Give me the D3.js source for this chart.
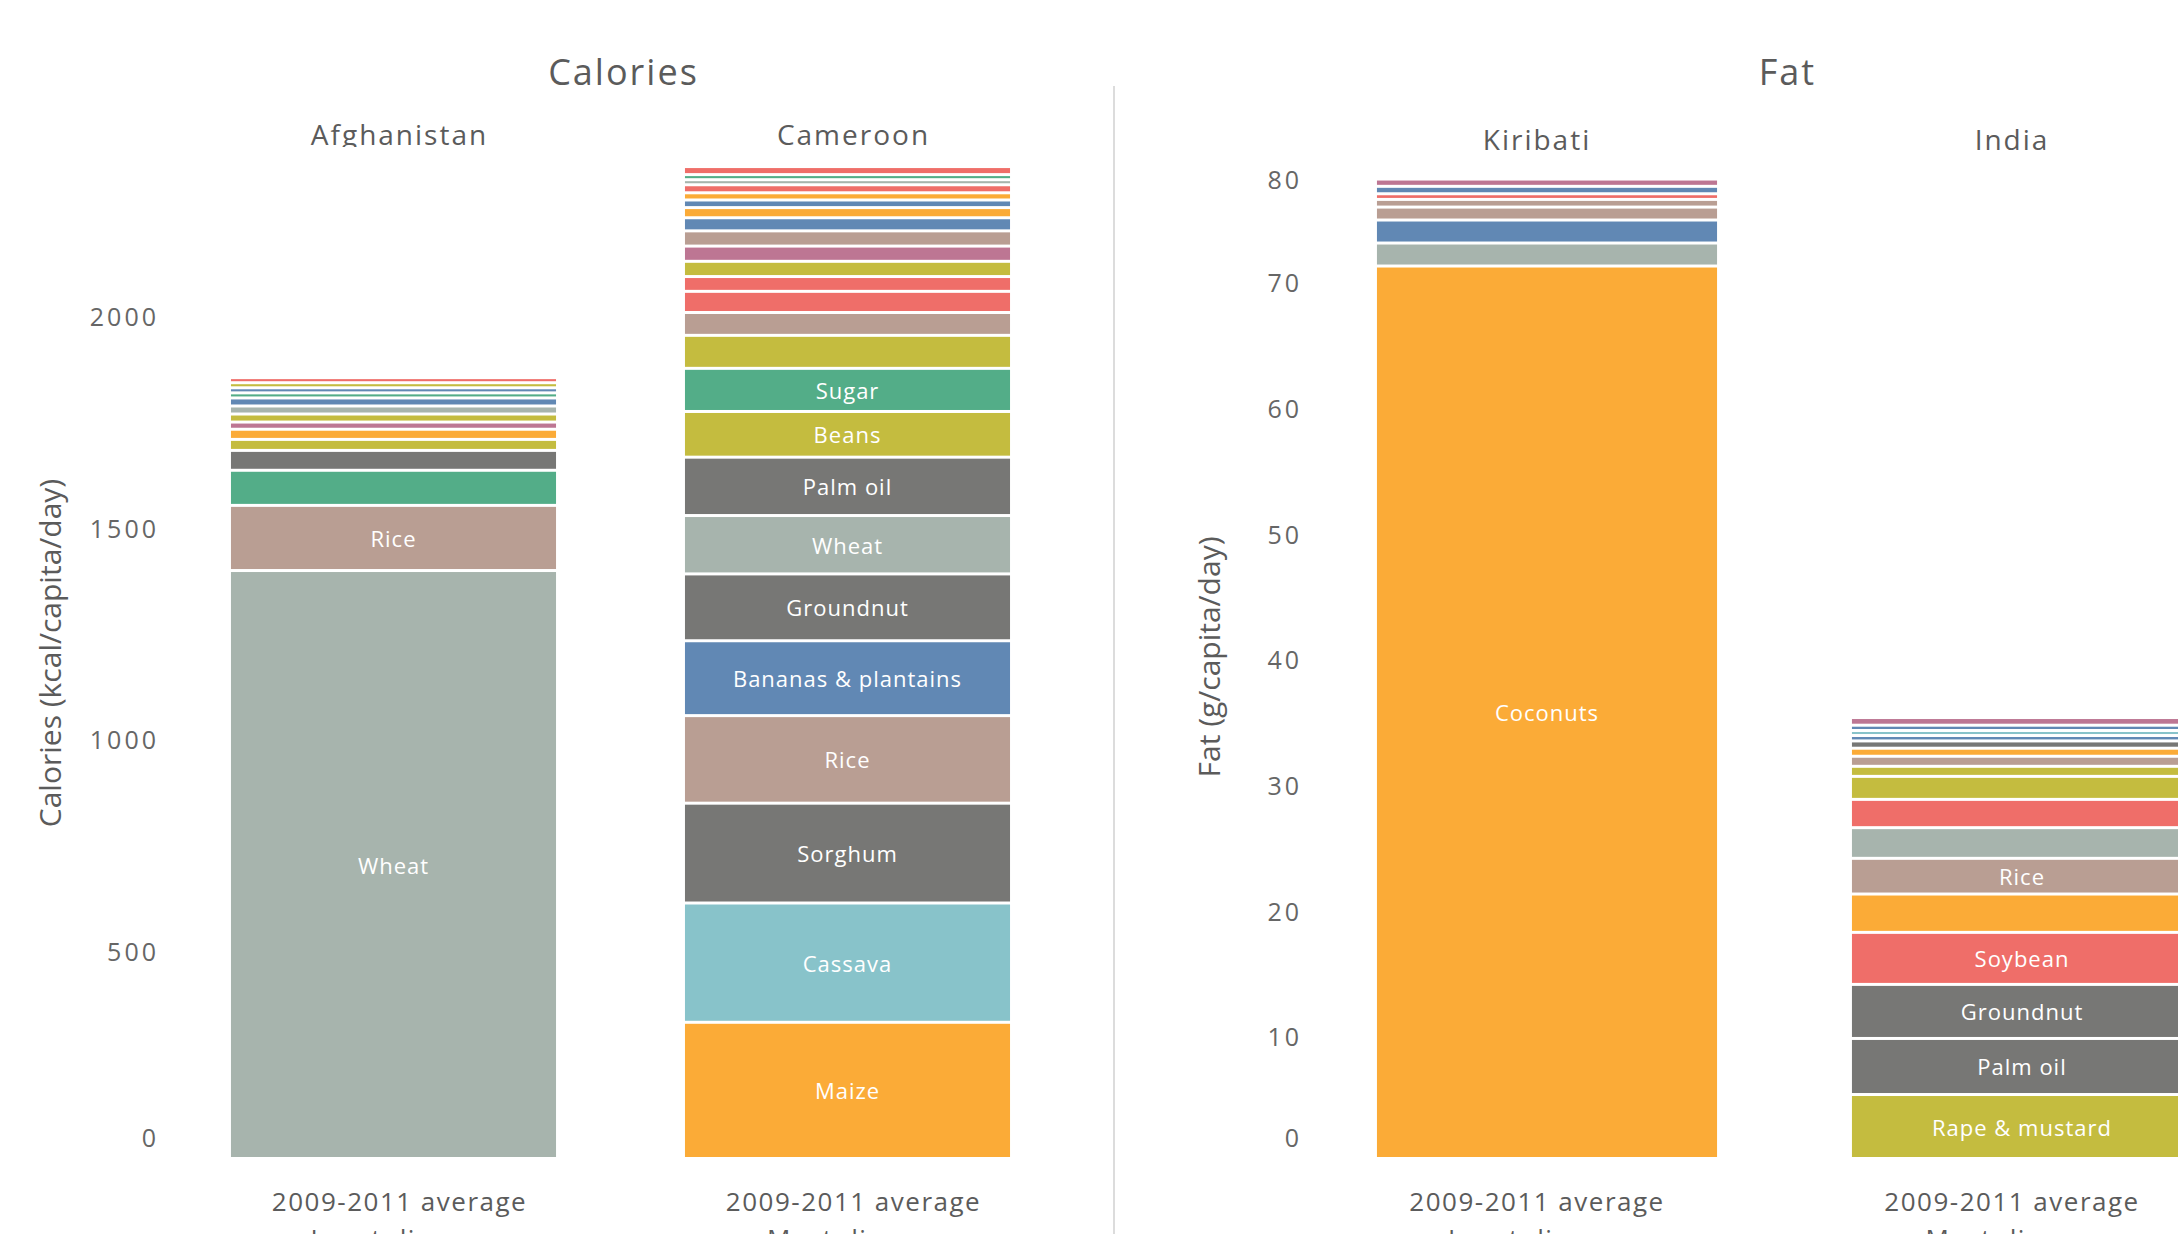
<!DOCTYPE html>
<html>
<head>
<meta charset="utf-8">
<script src="https://cdn.jsdelivr.net/npm/d3@7"></script>
<style>
  body { margin: 0; background: #fff; }
  text { font-family: 'Open Sans', sans-serif; }
</style>
</head>
<body>
<script>
// ---- data (segments listed bottom to top) ----
const calorieCountries = ['Afghanistan', 'Cameroon'];
const calorieTicks = [0, 500, 1000, 1500, 2000];

const afghanistanFoods = ['Wheat', 'Rice', '', '', '', '', '', '', '', '', '', '', '', ''];
const afghanistanKcal = [1390, 154, 83, 47, 26, 24, 17, 19, 19, 19, 12, 12, 12, 12];

const cameroonFoods = ['Maize', 'Cassava', 'Sorghum', 'Rice', 'Bananas & plantains', 'Groundnut',
  'Wheat', 'Palm oil', 'Beans', 'Sugar', '', '', '', '', '', '', '', '', '', '', '', '', '', '', ''];
const cameroonKcal = [322, 282, 236, 207, 177, 158, 138, 138, 108, 102,
  78, 54, 50, 35, 36, 36, 36, 31, 24, 18, 17, 19, 12, 12, 19];

const fatCountries = ['Kiribati', 'India'];
const fatTicks = [0, 10, 20, 30, 40, 50, 60, 70, 80];

const kiribatiFoods = ['Coconuts', '', '', '', '', '', '', ''];
const kiribatiFat = [71.0, 1.83, 1.83, 1.03, 0.61, 0.45, 0.59, 0.58];

const indiaFoods = ['Rape & mustard', 'Palm oil', 'Groundnut', 'Soybean', '', 'Rice', '', '', '',
  '', '', '', '', '', '', '', ''];
const indiaFat = [5.09, 4.46, 4.3, 4.14, 3.05, 2.84, 2.44, 2.25, 1.83,
  0.8, 0.8, 0.64, 0.58, 0.43, 0.4, 0.42, 0.61];

const periodLabel = '2009-2011 average';
const diversityLabels = ['Least diverse', 'Most diverse'];

// ---- colours ----
const palette = {
  sage: '#a7b4ad', tan: '#b99e93', green: '#53ad88', dgray: '#777775', olive: '#c4bc3f',
  orange: '#fbab37', mauve: '#bd7693', blue: '#6188b4', red: '#ef6e69', teal: '#88c3ca'
};
const afghanistanShades = ['sage', 'tan', 'green', 'dgray', 'olive', 'orange', 'mauve', 'olive',
  'sage', 'blue', 'green', 'blue', 'olive', 'red'];
const cameroonShades = ['orange', 'teal', 'dgray', 'tan', 'blue', 'dgray', 'sage', 'dgray', 'olive',
  'green', 'olive', 'tan', 'red', 'red', 'olive', 'mauve', 'tan', 'blue', 'orange', 'blue', 'orange',
  'red', 'sage', 'green', 'red'];
const kiribatiShades = ['orange', 'sage', 'blue', 'tan', 'tan', 'red', 'blue', 'mauve'];
const indiaShades = ['olive', 'dgray', 'dgray', 'red', 'orange', 'tan', 'sage', 'red', 'olive',
  'olive', 'tan', 'orange', 'dgray', 'blue', 'teal', 'blue', 'mauve'];

const W = 2178, H = 1234;
const baseY = 1160, gap = 3;
const textCol = '#5b5b5b';

const svg = d3.select('body').append('svg').attr('width', W).attr('height', H);

// divider between the two panels
svg.append('line')
  .attr('x1', 1114).attr('x2', 1114).attr('y1', 86).attr('y2', H)
  .attr('stroke', '#dcdcdc').attr('stroke-width', 2);

function drawPanel(p) {
  let x = d3.scaleBand().domain(p.countries).range(p.xRange)
    .paddingInner(0.284).paddingOuter(0.142);
  let y = d3.scaleLinear().domain([0, p.yMax]).range([baseY, p.yTop]);
  let g = svg.append('g');
  let mid = c => x(c) + x.bandwidth() / 2 + p.labelShift;

  // title
  let centers = p.countries.map(c => x(c) + x.bandwidth() / 2);
  g.append('text').text(p.title)
    .attr('x', d3.mean(centers) + 3).attr('y', 85)
    .attr('text-anchor', 'middle').attr('font-size', '36px')
    .attr('letter-spacing', '2px').attr('fill', textCol);

  // axis
  let axis = g.append('g').attr('transform', `translate(${p.axisX},0)`)
    .call(d3.axisLeft(y).tickValues(p.ticks).tickFormat(d3.format('d')).tickSize(0).tickPadding(0));
  axis.select('.domain').remove();
  axis.selectAll('.tick')
    .attr('transform', d => `translate(0,${Math.max(181, Math.min(1139, y(d) + 4))})`);
  axis.selectAll('text')
    .attr('font-family', "'Open Sans', sans-serif")
    .attr('font-size', '25px').attr('letter-spacing', '3px').attr('fill', '#666');

  g.append('text').text(p.axisTitle)
    .attr('transform', `translate(${p.axisTitleX},${p.axisTitleY}) rotate(-90)`)
    .attr('text-anchor', 'middle').attr('dominant-baseline', 'central')
    .attr('font-size', '30px').attr('fill', textCol);

  // country names, cut off just below the baseline like the original
  let clipId = 'clip' + p.title;
  svg.append('clipPath').attr('id', clipId).append('rect')
    .attr('x', 0).attr('y', 0).attr('width', W).attr('height', p.nameY + 2);
  g.append('g').attr('clip-path', `url(#${clipId})`)
    .selectAll('text').data(p.countries).enter().append('text')
    .text(d => d)
    .attr('x', d => mid(d)).attr('y', p.nameY)
    .attr('text-anchor', 'middle').attr('font-size', '28px')
    .attr('letter-spacing', '2px').attr('fill', textCol);

  // stacked bars
  p.bars.forEach((bar, bi) => {
    let country = p.countries[bi];
    let tops = Array.from(d3.cumsum(bar.values));
    let segs = bar.values.map((v, i) => ({
      food: bar.foods[i], v: v, shade: bar.shades[i],
      y0: i === 0 ? 0 : tops[i - 1], y1: tops[i]
    }));
    let bg = g.append('g');
    bg.selectAll('rect').data(segs).enter().append('rect')
      .attr('x', x(country)).attr('width', x.bandwidth())
      .attr('y', d => y(d.y1))
      .attr('height', d => Math.max(0.5, y(d.y0) - y(d.y1) - gap))
      .attr('fill', d => palette[d.shade]);
    bg.selectAll('text').data(segs.filter(d => d.food)).enter().append('text')
      .text(d => d.food)
      .attr('x', x(country) + x.bandwidth() / 2)
      .attr('y', d => (y(d.y1) + y(d.y0) - gap) / 2)
      .attr('text-anchor', 'middle').attr('dominant-baseline', 'central')
      .attr('font-size', '22px').attr('letter-spacing', '1px').attr('fill', '#fff');

    g.append('text').text(periodLabel)
      .attr('x', mid(country)).attr('y', 1211)
      .attr('text-anchor', 'middle').attr('font-size', '26px')
      .attr('letter-spacing', '1.5px').attr('fill', textCol);
    g.append('text').text(diversityLabels[bi])
      .attr('x', mid(country)).attr('y', 1248)
      .attr('text-anchor', 'middle').attr('font-size', '26px')
      .attr('letter-spacing', '1.5px').attr('fill', textCol);
  });
}

drawPanel({
  title: 'Calories', countries: calorieCountries, xRange: [166.5, 1074.5],
  yMax: 2000, yTop: 314, ticks: calorieTicks, axisX: 159, labelShift: 6,
  axisTitle: 'Calories (kcal/capita/day)', axisTitleX: 49, axisTitleY: 653, nameY: 145,
  bars: [
    { foods: afghanistanFoods, values: afghanistanKcal, shades: afghanistanShades },
    { foods: cameroonFoods, values: cameroonKcal, shades: cameroonShades }
  ]
});

drawPanel({
  title: 'Fat', countries: fatCountries, xRange: [1309.5, 2259.5],
  yMax: 80, yTop: 154.4, ticks: fatTicks, axisX: 1302, labelShift: -10,
  axisTitle: 'Fat (g/capita/day)', axisTitleX: 1208, axisTitleY: 657, nameY: 150,
  bars: [
    { foods: kiribatiFoods, values: kiribatiFat, shades: kiribatiShades },
    { foods: indiaFoods, values: indiaFat, shades: indiaShades }
  ]
});
</script>
</body>
</html>
